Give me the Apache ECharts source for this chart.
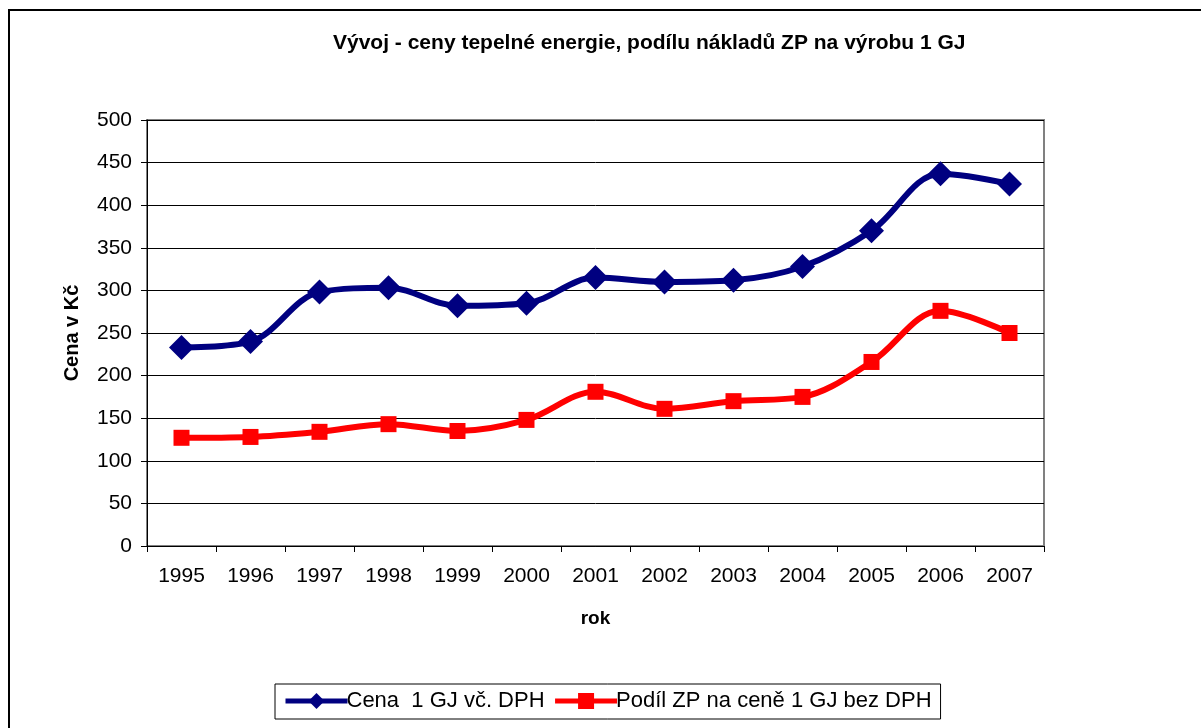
<!DOCTYPE html>
<html>
<head>
<meta charset="utf-8">
<script src="https://cdn.jsdelivr.net/npm/echarts@6/dist/echarts.min.js"></script>
<style>
  html, body { margin: 0; padding: 0; background: #fff; }
  #chart { width: 1201px; height: 728px; }
</style>
</head>
<body>
<div id="chart"></div>
<script>
// data
const roky = ['1995', '1996', '1997', '1998', '1999', '2000', '2001', '2002', '2003', '2004', '2005', '2006', '2007'];
const cenaGJ = [233, 240, 298, 303, 282, 285, 315, 310, 312, 328, 370, 437, 425];
const podilZP = [127, 128, 134, 143, 135, 148, 181, 161, 170, 175, 216, 276, 250];

const font = 'Arial, "Liberation Sans", sans-serif';

const chart = echarts.init(document.getElementById('chart'));

const option = {
  backgroundColor: '#fff',
  animation: false,
  title: {
    text: 'Vývoj - ceny tepelné energie, podílu nákladů ZP na výrobu 1 GJ',
    left: 328,
    top: 28,
    textStyle: { fontFamily: font, fontSize: 21, fontWeight: 'bold', color: '#000' }
  },
  graphic: [{
    type: 'rect',
    shape: { x: 9, y: 10, width: 1300, height: 800 },
    style: { fill: 'none', stroke: '#000', lineWidth: 2 },
    silent: true
  }],
  grid: {
    left: 147, right: 157, top: 120, bottom: 182,
    show: true, borderColor: '#808080', borderWidth: 2, backgroundColor: '#fff'
  },
  legend: {
    left: 275,
    top: 684,
    padding: [6, 9, 7, 8],
    borderColor: '#000',
    borderWidth: 1,
    itemWidth: 62,
    itemHeight: 20,
    itemGap: 8,
    lineStyle: { width: 5 },
    textStyle: { fontFamily: font, fontSize: 22, color: '#000', padding: [0, 0, 0, -6] },
    data: ['Cena  1 GJ vč. DPH', 'Podíl ZP na ceně 1 GJ bez DPH']
  },
  xAxis: {
    type: 'category',
    data: roky,
    boundaryGap: true,
    name: 'rok',
    nameLocation: 'middle',
    nameGap: 63,
    nameTextStyle: { fontFamily: font, fontSize: 19, fontWeight: 'bold', color: '#000' },
    axisLine: { lineStyle: { color: '#000', width: 1 } },
    axisTick: { show: true, length: 6, inside: false, lineStyle: { color: '#000' } },
    axisLabel: { fontFamily: font, fontSize: 21, color: '#000', margin: 20 },
    splitLine: { show: false }
  },
  yAxis: {
    type: 'value',
    min: 0,
    max: 500,
    interval: 50,
    name: 'Cena v Kč',
    nameLocation: 'middle',
    nameRotate: 90,
    nameGap: 65,
    nameTextStyle: { fontFamily: font, fontSize: 20, fontWeight: 'bold', color: '#000' },
    axisLine: { show: true, lineStyle: { color: '#000', width: 1 } },
    axisTick: { show: true, length: 6, lineStyle: { color: '#000' } },
    axisLabel: { fontFamily: font, fontSize: 21, color: '#000', margin: 15 },
    splitLine: { show: true, lineStyle: { color: '#000', width: 1 } }
  },
  series: [
    {
      name: 'Cena  1 GJ vč. DPH',
      type: 'line',
      data: cenaGJ,
      smooth: 0.35,
      symbol: 'diamond',
      symbolSize: 25,
      lineStyle: { color: '#000080', width: 6 },
      itemStyle: { color: '#000080' }
    },
    {
      name: 'Podíl ZP na ceně 1 GJ bez DPH',
      type: 'line',
      data: podilZP,
      smooth: 0.35,
      symbol: 'rect',
      symbolSize: 16,
      lineStyle: { color: '#ff0000', width: 6 },
      itemStyle: { color: '#ff0000' }
    }
  ]
};

chart.setOption(option);
</script>
</body>
</html>
